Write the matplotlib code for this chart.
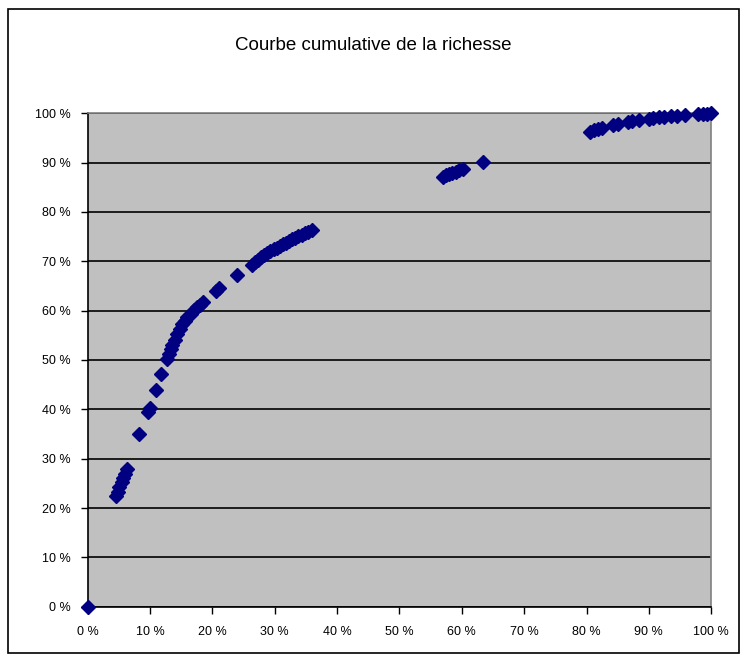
import matplotlib
matplotlib.use("Agg")
import matplotlib.pyplot as plt
from matplotlib.patches import Rectangle
from matplotlib.ticker import FixedLocator, FuncFormatter

plt.rcParams['font.family'] = ['Liberation Sans', 'DejaVu Sans']

# Cumulative share of population (%) and cumulative share of wealth (%)
pop_share = [
    0.0,
    4.5, 4.8, 5.1, 5.5, 5.7, 6.0, 6.3,
    8.3, 9.7, 10.0, 11.0, 11.8,
    12.7, 13.0, 13.3, 13.6, 14.0, 14.4, 14.8, 15.2, 15.6, 16.0, 16.5, 17.0, 17.5, 18.0, 18.5,
    20.6, 21.1, 23.9,
    26.3, 26.8, 27.3, 27.8, 28.3, 28.8, 29.3, 29.8, 30.3, 30.8, 31.3, 31.8, 32.3, 32.8,
    33.3, 33.8, 34.3, 34.8, 35.3, 35.9,
    57.0, 57.5, 58.0, 58.5, 59.0, 59.5, 60.2,
    63.4,
    80.5, 81.2, 81.8, 82.5, 84.2, 85.0, 86.6, 87.3, 88.4, 90.0, 90.6, 91.6, 92.4, 93.5,
    94.5, 95.8, 97.9, 98.7, 99.3, 100.0,
]
wealth_share = [
    0.0,
    22.4, 23.2, 24.3, 25.3, 26.1, 26.9, 27.9,
    35.1, 39.5, 40.2, 43.9, 47.2,
    50.3, 51.2, 52.2, 53.0, 54.0, 55.2, 56.3, 57.2, 58.0, 58.7, 59.4, 60.1, 60.7, 61.2, 61.7,
    64.0, 64.5, 67.2,
    69.2, 69.8, 70.3, 70.8, 71.2, 71.6, 72.0, 72.4, 72.8, 73.1, 73.5, 73.8, 74.2, 74.5,
    74.8, 75.1, 75.4, 75.7, 76.0, 76.3,
    87.1, 87.4, 87.7, 88.0, 88.2, 88.5, 88.8,
    90.2,
    96.3, 96.6, 96.8, 97.0, 97.6, 97.8, 98.3, 98.5, 98.6, 98.9, 99.1, 99.2, 99.3, 99.4,
    99.5, 99.6, 99.8, 99.9, 99.9, 100.0,
]
tick_values = [0, 10, 20, 30, 40, 50, 60, 70, 80, 90, 100]
title_text = "Courbe cumulative de la richesse"

W, H = 747, 666
fig = plt.figure(figsize=(W / 100, H / 100), dpi=100)
fig.patch.set_facecolor('white')

# Outer chart frame
fig.patches.append(Rectangle((7.5 / W, 1 - 653 / H), (739 - 7.5) / W, (653 - 9) / H,
                             transform=fig.transFigure, fill=False,
                             edgecolor='black', linewidth=1.2, zorder=0))

ax = fig.add_axes([87.7 / W, 1 - 606.7 / H, (711.2 - 87.7) / W, (606.7 - 113.3) / H])
ax.set_facecolor('#C0C0C0')
ax.set_xlim(0, 100)
ax.set_ylim(0, 100)

ax.xaxis.set_major_locator(FixedLocator(tick_values))
ax.yaxis.set_major_locator(FixedLocator(tick_values))
fmt = FuncFormatter(lambda v, p: f"{int(round(v))} %")
ax.xaxis.set_major_formatter(fmt)
ax.yaxis.set_major_formatter(fmt)

ax.grid(True, axis='y', color='black', linewidth=1.2)
ax.set_axisbelow(True)
ax.tick_params(axis='both', direction='out', length=5, width=1, color='black',
               labelsize=9, labelcolor='black')
ax.tick_params(axis='x', pad=9)
ax.tick_params(axis='y', pad=7)

for side in ('left', 'bottom'):
    ax.spines[side].set_color('black')
    ax.spines[side].set_linewidth(1.2)
for side in ('top', 'right'):
    ax.spines[side].set_color('#808080')
    ax.spines[side].set_linewidth(1.2)

ax.plot(pop_share, wealth_share, linestyle='none', marker='D', markersize=7,
        color='#000080', markeredgecolor='#000080', clip_on=False, zorder=5)

fig.text(0.5, 1 - 45 / H, title_text, ha='center', va='center', fontsize=13.5, color='black')

fig.savefig('out.png', dpi=100, facecolor='white')
